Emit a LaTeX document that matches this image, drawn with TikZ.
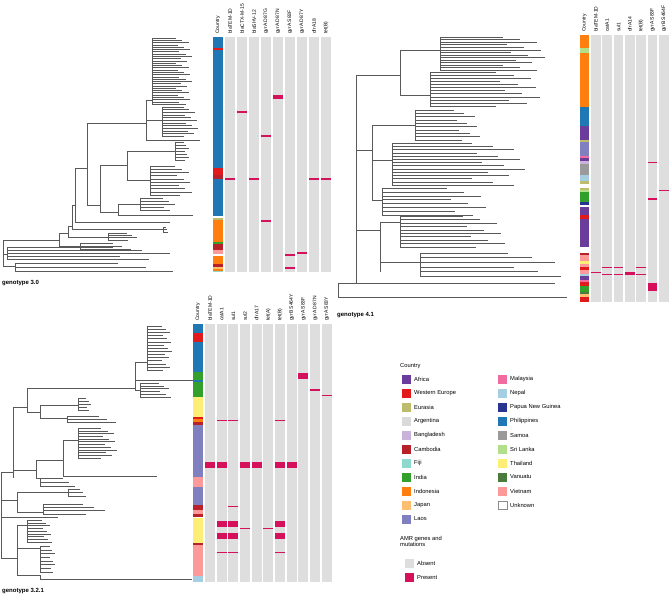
\documentclass[tikz,border=0pt]{standalone}
\usepackage{fontspec}
\setmainfont{Liberation Sans}
\usepackage{tikz}
\definecolor{africa}{HTML}{6A3D9A}
\definecolor{weurope}{HTML}{E31A1C}
\definecolor{eurasia}{HTML}{BDBB6C}
\definecolor{argentina}{HTML}{DADADA}
\definecolor{bangladesh}{HTML}{C9B3DA}
\definecolor{cambodia}{HTML}{B8202A}
\definecolor{fiji}{HTML}{8ED9CE}
\definecolor{india}{HTML}{33A02C}
\definecolor{indonesia}{HTML}{FF7F0E}
\definecolor{japan}{HTML}{FDBF6F}
\definecolor{laos}{HTML}{8080C0}
\definecolor{malaysia}{HTML}{F06BA0}
\definecolor{nepal}{HTML}{A6CEE3}
\definecolor{png}{HTML}{28348F}
\definecolor{philippines}{HTML}{1F78B4}
\definecolor{samoa}{HTML}{9A9A9A}
\definecolor{srilanka}{HTML}{B2DF8A}
\definecolor{thailand}{HTML}{FFEE75}
\definecolor{vanuatu}{HTML}{4A7A3C}
\definecolor{vietnam}{HTML}{FB9A99}
\definecolor{absent}{HTML}{DEDEDE}
\definecolor{present}{HTML}{D6105A}
\tikzset{
branch/.style={draw=black!65, line width=0.35pt},
hdr/.style={rotate=90, anchor=west, inner sep=0pt,
    font=\fontsize{5}{5}\selectfont},
geno/.style={anchor=west, inner sep=0pt, font=\fontsize{6}{6}\selectfont\bfseries},
legtext/.style={anchor=west, inner sep=0pt, font=\fontsize{5.8}{6}\selectfont}
}
% a bunch of leaves hanging off one vertical line
\newcommand{\twigs}[5]{%
  \draw[branch] (#1,#2) -- (#1,#3);
  \foreach \k in {1,...,#4}{%
    \pgfmathsetmacro{\ty}{#2+(#3-#2)*(\k-1)/max(#4-1,1)}
    \pgfmathsetmacro{\tx}{#5-mod(\k*7+3,11)*0.04*(#5-#1)}
    \draw[branch] (#1,\ty) -- (\tx,\ty);
  }}

\begin{document}
\begin{tikzpicture}[x=1pt, y=-1pt]
\useasboundingbox (0,0) rectangle (669,596);

%% genotype 3.0
\draw[branch] (3,240) -- (3,266);
\draw[branch] (3,240) -- (59,240);
\draw[branch] (3,266) -- (15,266);
\twigs{15}{263}{271}{3}{187}
\draw[branch] (3,254) -- (7,254);
\twigs{7}{247}{259}{5}{184}
\draw[branch] (59,233) -- (59,246);
\draw[branch] (59,246) -- (80,246);
\twigs{80}{243}{249}{3}{135}
\draw[branch] (59,233) -- (68,233);
\draw[branch] (68,226) -- (68,237);
\draw[branch] (68,237) -- (108,237);
\twigs{108}{233}{240}{4}{140}
\draw[branch] (68,226) -- (72,226);
\draw[branch] (72,205) -- (72,229);
\draw[branch] (72,229) -- (163,229);
\twigs{163}{227}{232}{3}{168}
\draw[branch] (72,205) -- (75,205);
\draw[branch] (75,168) -- (75,222);
\draw[branch] (75,222) -- (170,222);
\draw[branch] (75,168) -- (87,168);
\draw[branch] (87,123) -- (87,205);
\draw[branch] (87,123) -- (146,123);
\draw[branch] (87,205) -- (100,205);
\draw[branch] (100,165) -- (100,212);
\draw[branch] (100,165) -- (127,165);
\draw[branch] (127,151) -- (127,180);
\draw[branch] (127,151) -- (175,151);
\twigs{175}{142}{160}{7}{190}
\draw[branch] (127,180) -- (150,180);
\twigs{150}{166}{195}{10}{192}
\draw[branch] (100,212) -- (118,212);
\draw[branch] (118,204) -- (118,215);
\draw[branch] (118,204) -- (140,204);
\twigs{140}{198}{210}{5}{178}
\draw[branch] (118,215) -- (193,215);
\draw[branch] (146,100) -- (146,140);
\draw[branch] (146,140) -- (200,140);
\draw[branch] (146,100) -- (152,100);
\twigs{152}{38}{104}{30}{192}
\draw[branch] (146,120) -- (162,120);
\twigs{162}{107}{136}{12}{198}

\foreach \c/\a/\b in {philippines/37/216, weurope/48.5/50.5, weurope/168/175,
    cambodia/175/179, eurasia/218/220, indonesia/220/242, india/242/244,
    cambodia/244/250, vietnam/250/254, indonesia/256/264, cambodia/264/267,
    japan/267/269, indonesia/269/271, fiji/271/272}
  \fill[\c] (213,\a) rectangle (223,\b);
\foreach \i in {0,...,8}
  \fill[absent] ({225+12*\i},37) rectangle ++(10,235);
\foreach \i/\y/\h in {5/97.5/4, 2/112/1.5, 4/135.7/2, 1/179/2.5, 3/179/2.5,
    8/179/2.5, 9/179/2.5, 4/221/1.5, 6/255/1.5, 6/267.7/2, 7/253/1.5}
  \fill[present] ({225+12*(\i-1)},{\y-\h/2}) rectangle ++(10,\h);
\node[hdr] (ga0) at (218,34) {Country};
\foreach \t [count=\i] in {blaTEM-1D, blaCTX-M-15, blaSHV-12, gyrA D87G,
    gyrA D87N, gyrA S83F, gyrA D87Y, dfrA18, tet(B)}
  \node[hdr] (ga\i) at ({230+12*(\i-1)},34) {\t};
\node[geno] (gta) at (2,283) {genotype 3.0};

%% genotype 4.1
\draw[branch] (338,283) -- (338,297);
\draw[branch] (338,297) -- (567,297);
\draw[branch] (338,283) -- (356,283);
\draw[branch] (356,75) -- (356,283);
\draw[branch] (356,75) -- (400,75);
\draw[branch] (400,50) -- (400,95);
\draw[branch] (400,50) -- (440,50);
\twigs{440}{37}{70}{14}{545}
\draw[branch] (400,95) -- (430,95);
\twigs{430}{72}{106}{12}{540}
\draw[branch] (356,150) -- (372,150);
\draw[branch] (372,125) -- (372,200);
\draw[branch] (372,125) -- (415,125);
\twigs{415}{110}{140}{10}{480}
\draw[branch] (372,160) -- (392,160);
\twigs{392}{143}{185}{14}{525}
\draw[branch] (372,200) -- (382,200);
\twigs{382}{188}{215}{8}{490}
\draw[branch] (356,230) -- (380,230);
\draw[branch] (380,222) -- (380,272);
\draw[branch] (380,222) -- (400,222);
\twigs{400}{216}{247}{10}{505}
\draw[branch] (380,262) -- (420,262);
\twigs{420}{253}{276}{6}{567}
\draw[branch] (356,283) -- (555,283);

\foreach \c/\a/\b in {indonesia/35/48, srilanka/48/53, indonesia/53/107,
    philippines/107/126, africa/126/140, eurasia/140/142, laos/142/156,
    malaysia/156/158, africa/158/161, bangladesh/161/164, samoa/164/175,
    nepal/175/181, eurasia/181/184, eurasia/188/190, srilanka/190/192,
    india/192/202, png/202/205, africa/207/215, weurope/215/219,
    africa/219/247, cambodia/253/255, vietnam/255/261, thailand/261/264,
    vietnam/264/267, weurope/267/270, vietnam/270/274, nepal/274/276,
    africa/276/280, malaysia/280/282, weurope/282/286, india/286/292,
    vanuatu/292/294, japan/294/297, weurope/297/302}
  \fill[\c] (580,\a) rectangle (589,\b);
\foreach \i in {0,...,6}
  \fill[absent] ({591+11.33*\i},35) rectangle ++(9.7,267);
\foreach \i/\y/\h in {6/162.3/1.5, 6/199/1.5, 7/190.3/1.5, 1/272.7/1.5,
    2/267.3/1.5, 2/274.7/1.5, 3/267.3/1.5, 3/274.7/1.5, 4/273.3/3,
    5/267.3/1.5, 5/274.7/1.5, 6/286.7/8}
  \fill[present] ({591+11.33*(\i-1)},{\y-\h/2}) rectangle ++(9.7,\h);
\node[hdr] (gb0) at (584.5,32) {Country};
\foreach \t [count=\i] in {blaTEM-1D, catA1, sul1, dfrA14, tet(B),
    gyrA S83F, gyrB S464F}
  \node[hdr] (gb\i) at ({595.8+11.33*(\i-1)},32) {\t};
\node[geno] (gtb) at (337,315) {genotype 4.1};

%% genotype 3.2.1
\draw[branch] (1,472) -- (1,558);
\draw[branch] (1,472) -- (13,472);
\draw[branch] (13,407) -- (13,478);
\draw[branch] (13,407) -- (27,407);
\draw[branch] (27,388) -- (27,412);
\draw[branch] (27,388) -- (135,388);
\draw[branch] (135,362) -- (135,390);
\draw[branch] (135,362) -- (147,362);
\twigs{147}{326}{370}{15}{172}
\draw[branch] (135,380) -- (193,380);
\draw[branch] (135,390) -- (140,390);
\twigs{140}{383}{397}{6}{172}
\draw[branch] (27,412) -- (40,412);
\draw[branch] (40,405) -- (40,418);
\draw[branch] (40,405) -- (78,405);
\twigs{78}{398}{410}{5}{92}
\draw[branch] (40,418) -- (67,418);
\twigs{67}{416}{422}{3}{120}
\draw[branch] (13,470) -- (36,470);
\draw[branch] (36,460) -- (36,478);
\draw[branch] (36,460) -- (63,460);
\draw[branch] (63,440) -- (63,476);
\draw[branch] (63,440) -- (78,440);
\twigs{78}{428}{458}{12}{117}
\draw[branch] (63,476) -- (157,476);
\draw[branch] (36,478) -- (40,478);
\twigs{40}{478}{486}{3}{78}
\draw[branch] (1,500) -- (17,500);
\draw[branch] (17,492) -- (17,512);
\draw[branch] (17,492) -- (68,492);
\twigs{68}{489}{496}{3}{88}
\draw[branch] (17,512) -- (43,512);
\twigs{43}{504}{514}{4}{110}
\draw[branch] (1,517) -- (58,517);
\draw[branch] (1,558) -- (17,558);
\draw[branch] (17,525) -- (17,575);
\draw[branch] (17,525) -- (27,525);
\twigs{27}{520}{542}{9}{52}
\draw[branch] (17,548) -- (40,548);
\twigs{40}{546}{572}{8}{56}
\draw[branch] (17,575) -- (40,575);
\draw[branch] (40,575) -- (40,579);
\draw[branch] (40,579) -- (192,579);

\foreach \c/\a/\b in {philippines/324/333, weurope/333/342,
    philippines/342/372, india/372/380, philippines/380/382, india/382/397,
    thailand/397/417, weurope/417/419, indonesia/419/422, cambodia/422/425,
    laos/425/477, vietnam/477/487, laos/487/505, cambodia/505/510,
    vietnam/510/514, cambodia/514/517, thailand/518/543, cambodia/543/545,
    vietnam/545/576, nepal/576/582}
  \fill[\c] (193,\a) rectangle (203,\b);
\foreach \i in {0,...,10}
  \fill[absent] ({205+11.67*\i},324) rectangle ++(10,258);
\foreach \i/\y/\h in {9/376/6.5, 10/390/1.5, 11/395.7/1.5, 2/420.7/1.5,
    3/420.7/1.5, 7/420.7/1.5, 1/465/6.5, 2/465/6.5, 4/465/6.5, 5/465/6.5,
    7/465/6.5, 8/465/6.5, 3/506.7/1.5, 2/523.7/6, 3/523.7/6, 7/523.7/6,
    4/528.3/1.5, 6/528.3/1.5, 2/536/6.5, 3/536/6.5, 7/536/6.5,
    2/552.7/1.5, 3/552.7/1.5, 7/552.7/1.5}
  \fill[present] ({205+11.67*(\i-1)},{\y-\h/2}) rectangle ++(10,\h);
\node[hdr] (gc0) at (198,321) {Country};
\foreach \t [count=\i] in {blaTEM-1D, catA1, sul1, sul2, dfrA17, tet(A),
    tet(B), gyrB S464Y, gyrA S83F, gyrA D87N, gyrA S83Y}
  \node[hdr] (gc\i) at ({210+11.67*(\i-1)},321) {\t};
\node[geno] (gtc) at (2,591) {genotype 3.2.1};

%% legend
\node[legtext] (lgt) at (400,366) {Country};
\foreach \t/\c [count=\n from 0] in {Africa/africa, Western Europe/weurope,
    Eurasia/eurasia, Argentina/argentina, Bangladesh/bangladesh,
    Cambodia/cambodia, Fiji/fiji, India/india, Indonesia/indonesia,
    Japan/japan, Laos/laos}{
  \fill[\c] (402,{374.5+14*\n}) rectangle ++(9,9);
  \node[legtext] (lga\n) at (414,{379+14*\n}) {\t};
}
\foreach \t/\c [count=\n from 0] in {Malaysia/malaysia, Nepal/nepal,
    Papua New Guinea/png, Philippines/philippines, Samoa/samoa,
    Sri Lanka/srilanka, Thailand/thailand, Vanuatu/vanuatu,
    Vietnam/vietnam}{
  \fill[\c] (498,{374.5+14*\n}) rectangle ++(9,9);
  \node[legtext] (lgb\n) at (510,{379+14*\n}) {\t};
}
\draw[black!45, fill=white, line width=0.4pt] (498.2,500.7) rectangle ++(8.6,8.6);
\node[legtext] (lgb9) at (510,505) {Unknown};
\node[legtext, align=left] (lgamr) at (400,541) {AMR genes and\\mutations};
\fill[absent] (405,559) rectangle ++(9,9);
\node[legtext] (lgabs) at (417,563.5) {Absent};
\fill[present] (405,573) rectangle ++(9,9);
\node[legtext] (lgpre) at (417,577.5) {Present};
\end{tikzpicture}
\end{document}
